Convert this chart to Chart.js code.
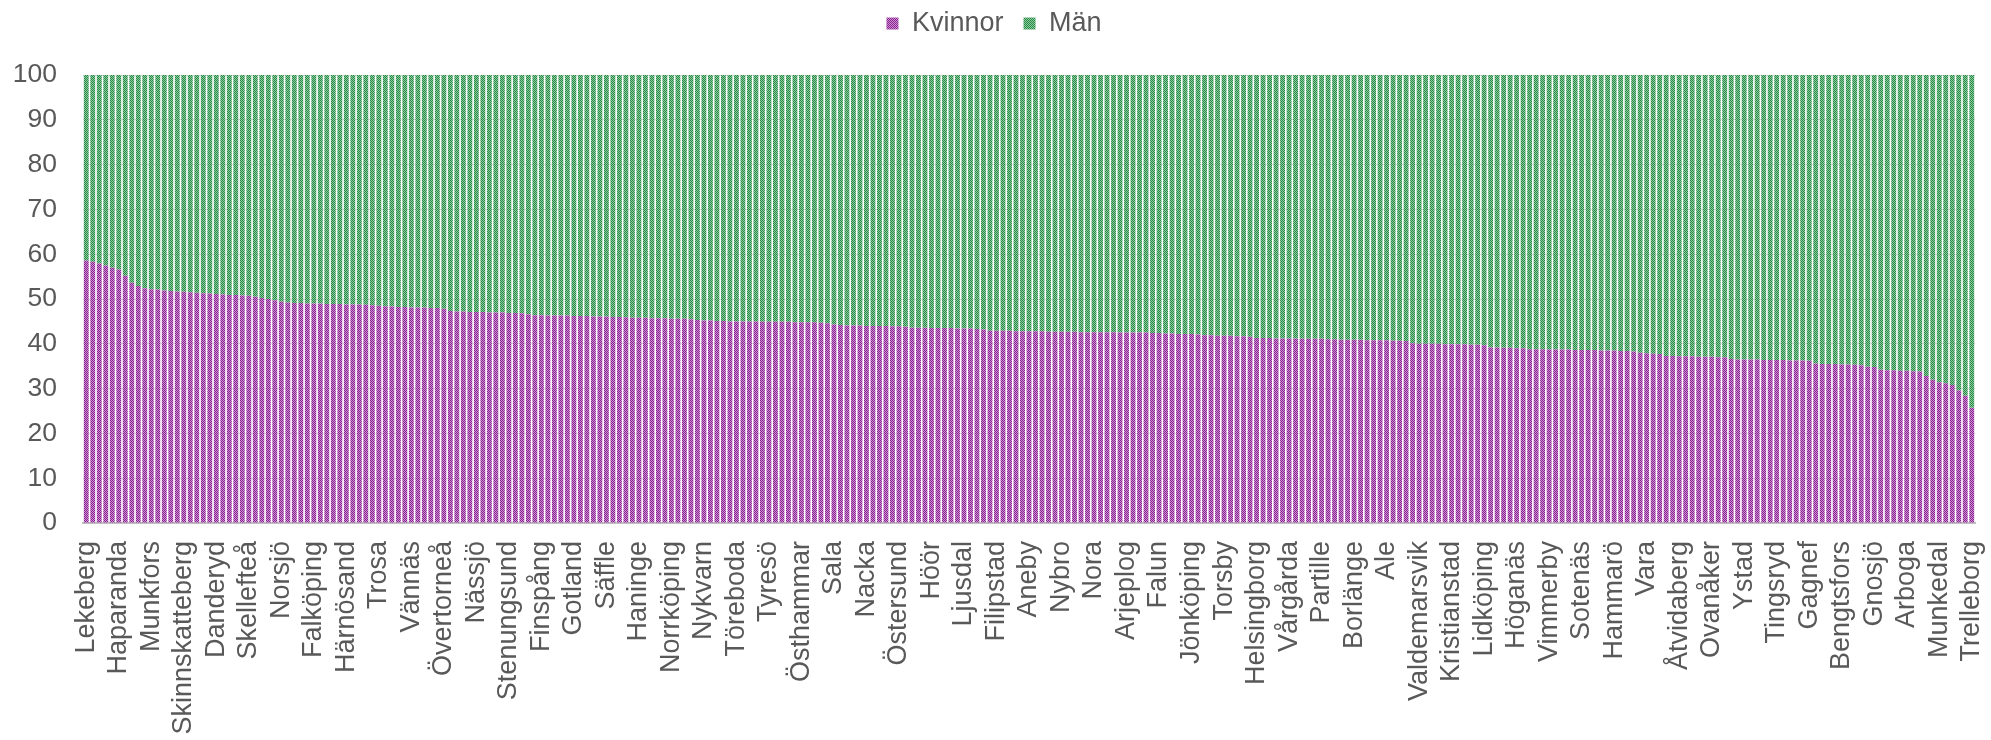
<!DOCTYPE html>
<html>
<head>
<meta charset="utf-8">
<script src="https://cdn.jsdelivr.net/npm/chart.js@4.4.1/dist/chart.umd.min.js"></script>
<style>
  html, body { margin: 0; padding: 0; background: #fff; }
  #wrap { width: 1991px; height: 740px; }
</style>
</head>
<body>
<div id="wrap"><canvas id="genderChart" width="1991" height="740"></canvas></div>
<script>
// names printed under every fifth bar (the other bars carry no label)
const shownLabels = [
  "Lekeberg", "Haparanda", "Munkfors", "Skinnskatteberg", "Danderyd", "Skellefteå",
  "Norsjö", "Falköping", "Härnösand", "Trosa", "Vännäs", "Övertorneå", "Nässjö",
  "Stenungsund", "Finspång", "Gotland", "Säffle", "Haninge", "Norrköping", "Nykvarn",
  "Töreboda", "Tyresö", "Östhammar", "Sala", "Nacka", "Östersund", "Höör", "Ljusdal",
  "Filipstad", "Aneby", "Nybro", "Nora", "Arjeplog", "Falun", "Jönköping", "Torsby",
  "Helsingborg", "Vårgårda", "Partille", "Borlänge", "Ale", "Valdemarsvik",
  "Kristianstad", "Lidköping", "Höganäs", "Vimmerby", "Sotenäs", "Hammarö", "Vara",
  "Åtvidaberg", "Ovanåker", "Ystad", "Tingsryd", "Gagnef", "Bengtsfors", "Gnosjö",
  "Arboga", "Munkedal", "Trelleborg"
];
const labelStep = 5;

// andel kvinnor (%), one value per bar
const kvinnor = [
  58.6, 58.3, 57.9, 57.5, 57.0, 56.6, 55.2, 53.6, 52.9, 52.4,
  52.2, 52.1, 51.9, 51.8, 51.7, 51.6, 51.5, 51.4, 51.3, 51.2,
  51.1, 51.0, 50.9, 50.9, 50.8, 50.7, 50.5, 50.2, 50.0, 49.7,
  49.4, 49.2, 49.1, 49.1, 49.0, 49.0, 49.0, 48.9, 48.9, 48.9,
  48.8, 48.8, 48.8, 48.7, 48.6, 48.5, 48.4, 48.3, 48.2, 48.2,
  48.1, 48.1, 48.1, 48.0, 48.0, 47.8, 47.3, 47.2, 47.2, 47.1,
  47.1, 47.1, 47.0, 47.0, 47.0, 46.9, 46.9, 46.8, 46.6, 46.4,
  46.4, 46.3, 46.3, 46.3, 46.3, 46.2, 46.2, 46.2, 46.1, 46.1,
  46.1, 46.0, 46.0, 45.9, 45.8, 45.8, 45.8, 45.7, 45.7, 45.7,
  45.6, 45.6, 45.6, 45.5, 45.3, 45.2, 45.2, 45.1, 45.1, 45.0,
  45.0, 45.0, 45.0, 45.0, 44.9, 44.9, 44.9, 44.9, 44.9, 44.8,
  44.8, 44.8, 44.8, 44.7, 44.6, 44.3, 44.2, 44.1, 44.1, 44.1,
  44.0, 44.0, 44.0, 44.0, 43.9, 43.9, 43.8, 43.6, 43.6, 43.6,
  43.5, 43.5, 43.5, 43.5, 43.4, 43.4, 43.4, 43.3, 43.2, 42.9,
  42.9, 42.9, 42.9, 42.8, 42.8, 42.8, 42.8, 42.8, 42.7, 42.7,
  42.7, 42.7, 42.7, 42.6, 42.6, 42.6, 42.6, 42.6, 42.6, 42.5,
  42.5, 42.5, 42.5, 42.5, 42.4, 42.4, 42.3, 42.3, 42.2, 42.2,
  42.2, 42.1, 41.9, 41.9, 41.8, 41.8, 41.8, 41.7, 41.7, 41.6,
  41.3, 41.3, 41.3, 41.2, 41.2, 41.2, 41.2, 41.1, 41.1, 41.1,
  41.1, 41.0, 41.0, 40.9, 40.9, 40.9, 40.9, 40.8, 40.8, 40.8,
  40.8, 40.7, 40.7, 40.6, 40.1, 40.0, 40.0, 40.0, 40.0, 39.9,
  39.9, 39.9, 39.9, 39.8, 39.8, 39.7, 39.2, 39.2, 39.1, 39.1,
  39.0, 39.0, 38.8, 38.8, 38.8, 38.7, 38.7, 38.7, 38.7, 38.6,
  38.6, 38.6, 38.6, 38.5, 38.5, 38.5, 38.4, 38.4, 38.3, 38.0,
  37.9, 37.8, 37.7, 37.3, 37.3, 37.2, 37.2, 37.2, 37.1, 37.1,
  37.1, 37.0, 37.0, 36.6, 36.5, 36.5, 36.5, 36.5, 36.4, 36.4,
  36.4, 36.4, 36.3, 36.3, 36.3, 36.2, 35.6, 35.5, 35.5, 35.5,
  35.4, 35.4, 35.3, 35.2, 34.9, 34.8, 34.2, 34.1, 34.1, 34.0,
  34.0, 33.9, 33.8, 32.8, 32.0, 31.4, 31.2, 30.8, 29.6, 28.4,
  25.7
];

// 100 % stacked: men are the rest of each bar
const man = kvinnor.map(v => +(100 - v).toFixed(1));

const yTicks = [0, 10, 20, 30, 40, 50, 60, 70, 80, 90, 100];

const categories = kvinnor.map((v, i) => i % labelStep === 0 ? (shownLabels[i / labelStep] || '') : '');

// small dotted fill like the Excel pattern fill
function dotPattern(dark, light) {
  const c = document.createElement('canvas');
  c.width = 2; c.height = 2;
  const g = c.getContext('2d');
  g.fillStyle = light;
  g.fillRect(0, 0, 2, 2);
  g.fillStyle = dark;
  g.fillRect(0, 0, 1, 1);
  g.fillRect(1, 1, 1, 1);
  return g.createPattern(c, 'repeat');
}

const ctx = document.getElementById('genderChart').getContext('2d');
const purpleFill = dotPattern('#86248f', '#d08dd4');
const greenFill = dotPattern('#2a8647', '#8ccf9e');

const textGrey = '#595959';
const family = "'Liberation Sans', Arial, sans-serif";
const tickFont = { family: family, size: 26.5 };
const labelFont = { family: family, size: 27 };

// push the plot a bit further below the legend
const legendGap = {
  id: 'legendGap',
  beforeInit(chart) {
    const fit = chart.legend.fit;
    chart.legend.fit = function () {
      fit.bind(chart.legend)();
      this.height += 28;
    };
  }
};

new Chart(ctx, {
  type: 'bar',
  data: {
    labels: categories,
    datasets: [
      { label: 'Kvinnor', data: kvinnor, backgroundColor: purpleFill, borderWidth: 0 },
      { label: 'Män', data: man, backgroundColor: greenFill, borderWidth: 0 }
    ]
  },
  options: {
    responsive: false,
    animation: false,
    devicePixelRatio: 1,
    datasets: { bar: { categoryPercentage: 1.0, barPercentage: 0.75 } },
    layout: { padding: { left: 13, right: 16, top: -10, bottom: 4 } },
    plugins: {
      tooltip: { enabled: false },
      legend: {
        position: 'top',
        align: 'center',
        labels: {
          color: textGrey,
          font: labelFont,
          boxWidth: 12,
          boxHeight: 12,
          padding: 20
        }
      }
    },
    scales: {
      x: {
        stacked: true,
        grid: { display: false, drawTicks: false },
        border: { display: true, color: '#bfbfbf', width: 2 },
        ticks: {
          autoSkip: false,
          minRotation: 90,
          maxRotation: 90,
          padding: 18,
          color: textGrey,
          font: labelFont
        },
        afterFit(scale) {
          // labels may hang over the ends, as in the original
          scale.paddingLeft = 0;
          scale.paddingRight = 0;
          scale.height = 213;
        }
      },
      y: {
        stacked: true,
        min: 0,
        max: 100,
        afterBuildTicks(axis) {
          axis.ticks = yTicks.map(v => ({ value: v }));
        },
        afterFit(scale) {
          scale.width = 70;
        },
        grid: { color: '#d9d9d9', lineWidth: 1, drawTicks: false },
        border: { display: false },
        ticks: {
          padding: 26,
          color: textGrey,
          font: tickFont
        }
      }
    }
  },
  plugins: [legendGap]
});
</script>
</body>
</html>
